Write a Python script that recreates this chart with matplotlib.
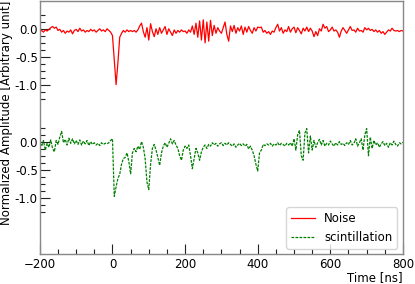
import numpy as np
import matplotlib
matplotlib.use('Agg')
import matplotlib.pyplot as plt

#Time axis, one sample every 5 ns
t = np.arange(-200, 805, 5)

#Normalized noise waveform (red)
noise = [
    -0.05,-0.03,-0.06,-0.02,-0.04,-0.01,0.02,0.04,0.01,0.03,      #-200..-155
    -0.03,-0.01,-0.06,-0.03,-0.08,-0.04,-0.06,-0.02,-0.09,-0.03,  #-150..-105
    -0.01,-0.05,0.01,-0.04,-0.02,-0.06,-0.03,-0.05,-0.01,-0.04,   #-100..-55
    -0.02,-0.06,-0.03,0.00,-0.04,-0.02,-0.05,0.00,-0.03,-0.06,    #-50..-5
    -0.12,-0.55,-0.99,-0.60,-0.15,-0.08,-0.03,-0.06,-0.02,-0.05,  #0..45
    -0.03,-0.05,-0.03,-0.06,-0.02,0.05,0.10,-0.05,-0.15,0.02,     #50..95
    -0.20,0.09,-0.05,-0.14,0.00,-0.10,0.02,-0.08,-0.02,0.04,      #100..145
    -0.10,0.00,-0.06,-0.12,-0.02,-0.08,-0.03,-0.06,-0.02,-0.05,   #150..195
    -0.04,-0.08,-0.02,-0.06,0.05,-0.10,0.10,-0.15,0.14,-0.20,     #200..245
    0.16,-0.25,0.12,-0.22,0.15,-0.12,0.06,-0.08,0.02,-0.04,       #250..295
    -0.08,0.02,0.12,-0.10,-0.22,0.05,-0.05,0.06,-0.08,0.02,       #300..345
    -0.04,0.05,-0.10,0.03,-0.06,0.04,-0.03,-0.08,0.02,-0.04,      #350..395
    0.03,0.02,0.03,-0.06,-0.03,-0.08,-0.05,-0.10,-0.04,-0.06,     #400..445
    0.02,0.08,-0.04,0.02,-0.08,-0.02,-0.05,0.04,-0.06,0.00,       #450..495
    0.03,-0.07,0.02,-0.03,-0.09,0.01,-0.04,0.03,-0.05,0.01,       #500..545
    -0.04,-0.14,-0.05,-0.12,0.00,-0.04,0.08,0.01,0.04,-0.05,      #550..595
    -0.02,0.03,-0.04,-0.02,-0.06,-0.15,-0.04,0.02,-0.03,-0.08,    #600..645
    -0.02,0.04,-0.03,-0.02,-0.06,0.01,-0.04,-0.03,-0.06,0.02,     #650..695
    -0.02,0.01,-0.03,-0.01,-0.05,-0.02,-0.06,-0.03,-0.08,-0.05,   #700..745
    -0.10,-0.06,-0.02,-0.04,0.01,-0.03,-0.04,-0.03,-0.05,-0.03,   #750..795
    -0.04]                                                        #800

#Normalized scintillation waveform (green), drawn shifted down
scint = [
    -0.02,-0.08,0.02,-0.15,-0.03,-0.10,0.03,-0.12,-0.18,0.02,     #-200..-155
    -0.05,0.08,0.18,-0.02,0.04,-0.06,0.06,-0.03,0.05,-0.04,       #-150..-105
    0.02,-0.05,0.03,-0.06,0.01,-0.04,0.02,-0.07,0.00,-0.05,       #-100..-55
    -0.02,-0.06,-0.03,-0.07,-0.02,-0.05,-0.03,-0.04,-0.02,0.02,   #-50..-5
    0.05,-0.97,-0.80,-0.65,-0.58,-0.40,-0.30,-0.28,-0.20,-0.35,   #0..45
    -0.57,-0.20,-0.12,-0.18,-0.08,-0.14,0.00,-0.10,-0.30,-0.72,   #50..95
    -0.85,-0.40,-0.12,-0.05,-0.15,-0.28,-0.42,-0.20,-0.08,-0.02,  #100..145
    -0.10,-0.03,0.05,-0.04,0.02,-0.06,-0.12,-0.25,-0.33,-0.15,    #150..195
    -0.08,-0.12,-0.06,-0.25,-0.48,-0.30,-0.12,-0.20,-0.33,-0.18,  #200..245
    -0.10,-0.06,-0.12,-0.05,-0.08,-0.02,-0.06,-0.03,-0.08,-0.04,  #250..295
    -0.02,-0.07,-0.03,-0.06,-0.02,-0.05,-0.08,-0.04,-0.10,-0.06,  #300..345
    -0.03,-0.07,-0.04,-0.08,-0.05,-0.13,-0.08,-0.15,-0.25,-0.40,  #350..395
    -0.52,-0.20,-0.15,-0.05,-0.07,-0.04,-0.06,-0.03,-0.08,-0.04,  #400..445
    -0.06,-0.02,-0.07,-0.03,-0.05,-0.08,-0.03,-0.06,-0.02,-0.08,  #450..495
    0.05,-0.15,0.12,0.20,-0.25,-0.33,0.15,0.23,-0.20,0.10,        #500..545
    -0.15,0.02,-0.10,-0.02,0.04,-0.06,0.02,-0.08,-0.03,-0.06,     #550..595
    0.01,-0.04,-0.08,-0.02,-0.06,0.00,-0.05,-0.03,-0.07,-0.02,    #600..645
    -0.05,0.02,-0.06,-0.03,0.05,-0.08,-0.02,0.05,-0.15,0.12,      #650..695
    0.23,-0.25,0.08,-0.12,0.02,-0.06,-0.02,-0.10,-0.04,0.00,      #700..745
    -0.07,-0.03,-0.10,-0.02,-0.06,0.01,-0.05,-0.08,-0.02,-0.04,   #750..795
    -0.01]                                                        #800

offset = -2.0                      #vertical shift of the scintillation trace
ylabels = ['0.0', '-0.5', '-1.0']
fs = 8.5

fig = plt.figure(figsize=(4.15, 2.84), dpi=100)
ax = fig.add_axes([0.096, 0.104, 0.875, 0.894])

ax.plot(t, noise, color='red', lw=0.9, label='Noise')
ax.plot(t, np.array(scint) + offset, color='green', lw=0.9,
        dashes=(2.2, 1.0), label='scintillation')

ax.set_xlim(-200, 800)
ax.set_ylim(-4.0, 0.5)

#y ticks: two groups of labels, one per trace
major = [0.0, -0.5, -1.0]
ax.set_yticks(major + [m + offset for m in major])
ax.set_yticklabels(ylabels + ylabels)
minor = [v for v in np.arange(0.25, -1.26, -0.125) if min(abs(v - m) for m in major) > 1e-6]
ax.set_yticks(minor + [v + offset for v in minor], minor=True)

ax.set_xticks(np.arange(-200, 801, 200))
ax.set_xticks(np.arange(-200, 801, 50), minor=True)

ax.tick_params(which='both', direction='in', labelsize=fs, color='#222222',
               top=False, right=False)
ax.tick_params(which='major', length=7, width=0.8)
ax.tick_params(which='minor', length=3.6, width=0.8)
ax.tick_params(axis='y', pad=1.5)
ax.tick_params(axis='x', pad=2.5)

for s in ax.spines.values():
    s.set_color('#888888')
    s.set_linewidth(1.0)

ax.set_xlabel('Time [ns]', fontsize=fs, loc='right')
ax.set_ylabel('Normalized Amplitude [Arbitrary unit]', fontsize=fs, loc='top')
ax.yaxis.set_label_coords(-0.074, 1.0)
ax.xaxis.set_label_coords(1.0, -0.066)

ax.legend(loc='lower right', fontsize=fs)

fig.savefig('out.png', dpi=100)
